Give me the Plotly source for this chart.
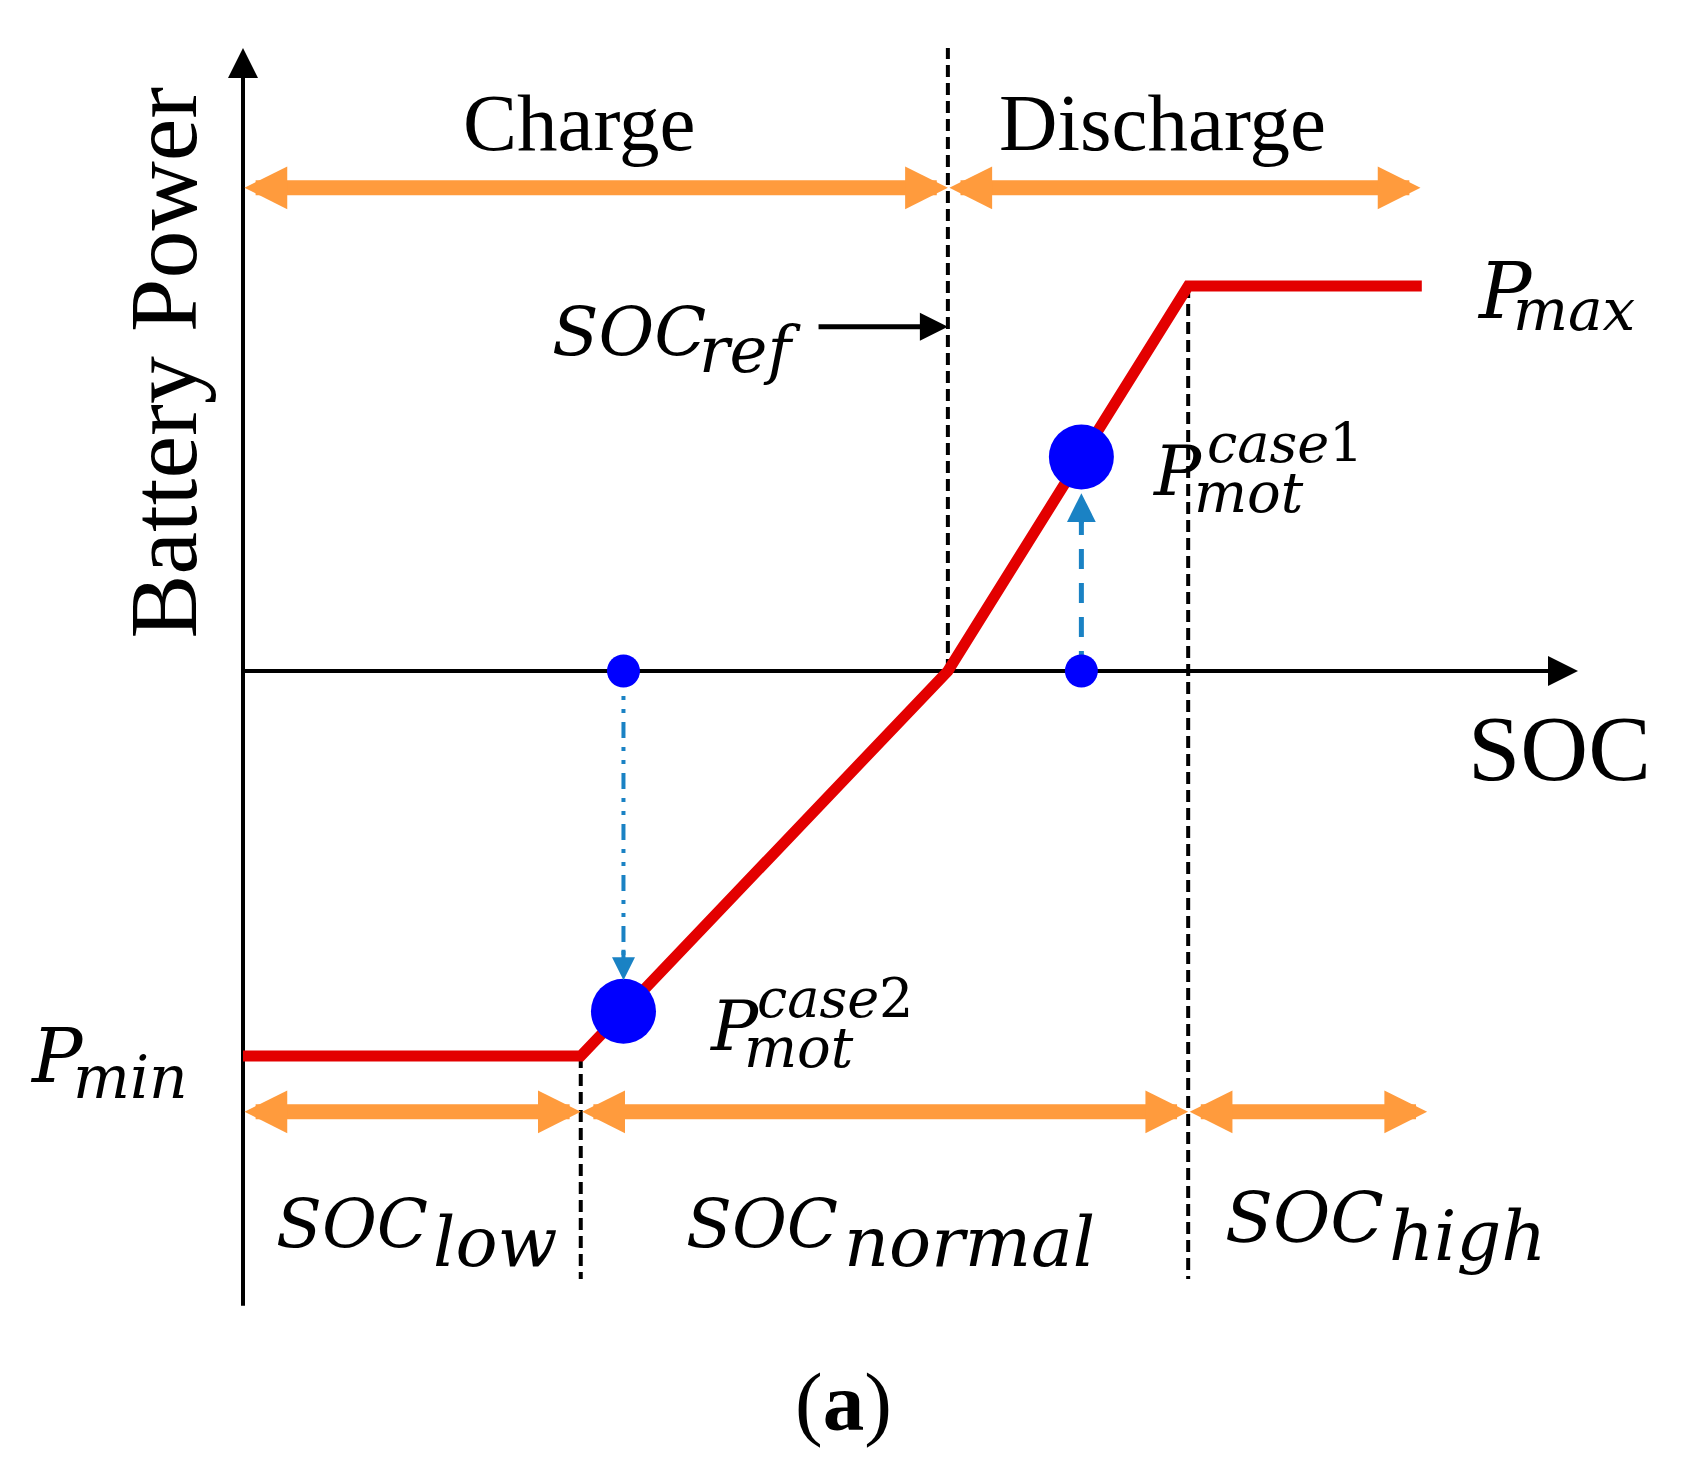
import plotly.graph_objects as go

# ---------------- data (SOC in %, power normalised to P_max = 1) ----------------
soc_curve = [0.0, 25.3, 52.8, 70.8, 88.3]
power_curve = [-1.0, -1.0, 0.0, 1.0, 1.0]

soc_low = 25.3
soc_ref = 52.8
soc_high = 70.8

case_soc = [62.8, 28.5]          # case1, case2
case_power = [0.556, -0.884]     # on the curve
axis_power = [0.0, 0.0]          # start points on the SOC axis

mode_band_x = [0.0, 52.8, 88.2]          # Charge | Discharge
mode_band_y = 1.255
zone_band_x = [0.0, 25.3, 70.8, 88.7]    # low | normal | high
zone_band_y = -1.145

x_axis_end = 100.0
y_axis_top = 1.618
y_axis_bottom = -1.649
dash_top = 1.618
dash_bottom = -1.579

# ---------------- canvas / scales ----------------
PAGE_MARGIN = 8                      # default body margin of the html page
W, H = 1687 - PAGE_MARGIN, 1475 - PAGE_MARGIN
X0_PX, Y0_PX = 243 - PAGE_MARGIN, 671 - PAGE_MARGIN
PX_PER_X, PX_PER_Y = 13.35, 385.0
x_range = [-X0_PX / PX_PER_X, (W - X0_PX) / PX_PER_X]
y_range = [-(H - Y0_PX) / PX_PER_Y, Y0_PX / PX_PER_Y]

RED = "#E30000"
ORANGE = "#FF9B3D"
BLUE = "#0000FF"
STEEL = "#1A82C4"
MATH_FONT = "DejaVu Serif"
TEXT_FONT = "Liberation Serif"

fig = go.Figure()

# dashed vertical guides
fig.add_trace(go.Scatter(
    x=[soc_ref, soc_ref, None, soc_low, soc_low, None, soc_high, soc_high],
    y=[0, dash_top, None, power_curve[1], dash_bottom, None, power_curve[3], dash_bottom],
    mode="lines", line=dict(color="black", width=4, dash="12px,6px"),
    hoverinfo="skip"))

# axes
fig.add_trace(go.Scatter(x=[0, x_axis_end - 1.5], y=[0, 0], mode="lines",
                         line=dict(color="black", width=4), hoverinfo="skip"))
fig.add_trace(go.Scatter(x=[0, 0], y=[y_axis_bottom, y_axis_top - 0.05], mode="lines",
                         line=dict(color="black", width=4), hoverinfo="skip"))

# red power curve
fig.add_trace(go.Scatter(x=soc_curve, y=power_curve, mode="lines",
                         line=dict(color=RED, width=11), hoverinfo="skip"))

# blue guide lines (case1 dashed up, case2 dash-dot down)
fig.add_trace(go.Scatter(x=[case_soc[0], case_soc[0]], y=[axis_power[0], 0.40],
                         mode="lines", line=dict(color=STEEL, width=5, dash="20px,14px"),
                         hoverinfo="skip"))
fig.add_trace(go.Scatter(x=[case_soc[1], case_soc[1]], y=[axis_power[1], -0.75],
                         mode="lines",
                         line=dict(color=STEEL, width=4, dash="16px,9px,4px,9px,4px,9px"),
                         hoverinfo="skip"))

# points
fig.add_trace(go.Scatter(x=case_soc, y=axis_power, mode="markers",
                         marker=dict(color=BLUE, size=33, line=dict(width=0)),
                         hoverinfo="skip"))
fig.add_trace(go.Scatter(x=case_soc, y=case_power, mode="markers",
                         marker=dict(color=BLUE, size=65, line=dict(width=0)),
                         hoverinfo="skip"))


def arrow(xt, yt, xh, yh, color, width, size, both=False):
    return dict(x=xh, y=yh, ax=xt, ay=yt, xref="x", yref="y", axref="x", ayref="y",
                text="", showarrow=True, arrowhead=2, arrowsize=size, arrowwidth=width,
                arrowcolor=color, arrowside="end+start" if both else "end",
                startarrowhead=2, startarrowsize=size)


ann = []
# axis heads
ann.append(arrow(x_axis_end - 4, 0, x_axis_end, 0, "black", 3, 2.0))
ann.append(arrow(0, y_axis_top - 0.15, 0, y_axis_top, "black", 3, 2.0))
# orange bands
for a, b in zip(mode_band_x[:-1], mode_band_x[1:]):
    ann.append(arrow(a, mode_band_y, b, mode_band_y, ORANGE, 15, 0.57, both=True))
for a, b in zip(zone_band_x[:-1], zone_band_x[1:]):
    ann.append(arrow(a, zone_band_y, b, zone_band_y, ORANGE, 15, 0.57, both=True))
# SOC_ref pointer
ann.append(arrow(43.0, 0.894, soc_ref, 0.894, "black", 5, 1.12))
# blue arrow heads
ann.append(arrow(case_soc[0], 0.38, case_soc[0], 0.462, STEEL, 5, 1.15))
ann.append(arrow(case_soc[1], -0.72, case_soc[1], -0.803, STEEL, 4, 1.15))


def label(text, x, y, size, family, xanchor="left", angle=0, asc=0.346, rotated=False):
    d = dict(text=text, x=x, y=y, xref="x", yref="y", showarrow=False,
             font=dict(family=family, size=size, color="black"),
             xanchor=xanchor, yanchor="middle", textangle=angle)
    if rotated:
        d["xshift"] = -asc * size
    else:
        d["yshift"] = asc * size
    return d


M = 0.346   # DejaVu baseline->box-centre factor
T = 0.3375  # Liberation Serif

# plain labels
ann.append(label("Charge", 25.2, 1.353, 81, TEXT_FONT, "center", asc=T))
ann.append(label("Discharge", 68.9, 1.353, 81, TEXT_FONT, "center", asc=T))
ann.append(label("SOC", 98.65, -0.283, 94, TEXT_FONT, "center", asc=T))
ann.append(label("(<b>a</b>)", 45.0, -1.971, 83, TEXT_FONT, "center", asc=T))
ann.append(label("Battery Power", -3.6, 0.80, 96, TEXT_FONT, "center", angle=-90,
                 asc=T, rotated=True))

# math labels
math = [
    ("<i>SOC</i>", 23.0, 0.821, 68), ("<i>ref</i>", 34.0, 0.775, 64),
    ("<i>SOC</i>", 2.32, -1.496, 67), ("<i>low</i>", 14.1, -1.545, 70),
    ("<i>SOC</i>", 33.03, -1.496, 67), ("<i>normal</i>", 44.9, -1.545, 70),
    ("<i>SOC</i>", 73.41, -1.483, 70), ("<i>high</i>", 85.7, -1.530, 70),
    ("<i>P</i>", 92.28, 0.917, 78), ("<i>max</i>", 95.0, 0.886, 58),
    ("<i>P</i>", -16.10, -1.068, 75), ("<i>min</i>", -12.9, -1.109, 60),
    ("<i>P</i>", 67.94, 0.457, 70), ("<i>case</i>1", 72.06, 0.543, 54),
    ("<i>mot</i>", 71.09, 0.413, 56),
    ("<i>P</i>", 34.76, -0.984, 70), ("<i>case</i>2", 38.35, -0.899, 54),
    ("<i>mot</i>", 37.38, -1.029, 56),
]
for t, x, y, s in math:
    ann.append(label(t, x, y, s, MATH_FONT, "left", asc=M))

fig.update_layout(
    width=W, height=H, margin=dict(l=0, r=0, t=0, b=0),
    paper_bgcolor="white", plot_bgcolor="white", showlegend=False,
    xaxis=dict(range=x_range, visible=False, fixedrange=True),
    yaxis=dict(range=y_range, visible=False, fixedrange=True),
    annotations=ann,
)

fig.write_html("out.html")
